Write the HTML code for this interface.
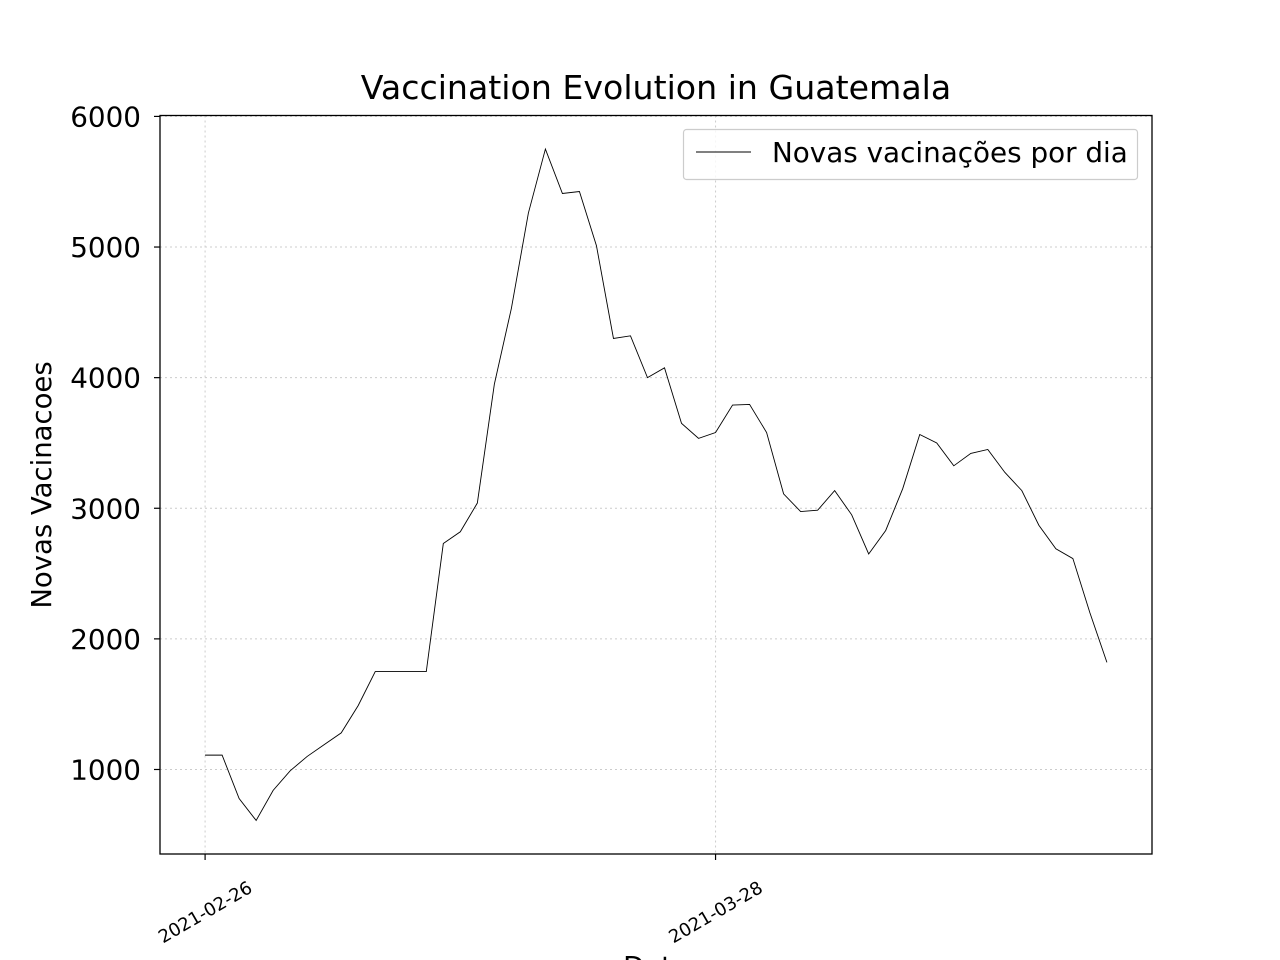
<!DOCTYPE html>
<html><head><meta charset="utf-8"><style>
html,body{margin:0;padding:0;background:#fff;}
svg{display:block;font-family:"DejaVu Sans","Liberation Sans",sans-serif;}
</style></head><body>
<svg id="chart" width="1280" height="960" viewBox="0 0 1280 960">
<text x="656" y="99" font-size="33.2" text-anchor="middle">Vaccination Evolution in Guatemala</text>
<g id="grid"></g>
<g id="yticks"></g>
<g id="xticks"></g>
<path id="line" fill="none" stroke="#000" stroke-width="0.9"/>
<rect x="160" y="115.5" width="992" height="738.5" fill="none" stroke="#000" stroke-width="1.3"/>
<text transform="translate(51,485) rotate(-90)" font-size="27.5" text-anchor="middle">Novas Vacinacoes</text>
<text x="656" y="976" font-size="27.5" text-anchor="middle">Data</text>
<g>
<rect x="683.5" y="129.5" width="454" height="50" rx="3" fill="#fff" fill-opacity="0.8" stroke="#ccc" stroke-width="1.2"/>
<line x1="696" y1="152" x2="751" y2="152" stroke="#000" stroke-width="0.9"/>
<text x="772" y="162" font-size="27.8">Novas vacinações por dia</text>
</g>
</svg>
<script>
const values=[1110,1110,778,610,840,990,1100,1190,1280,1490,1750,1750,1750,1750,2730,2820,3040,3950,4530,5260,5750,5410,5425,5010,4300,4320,4000,4075,3650,3535,3580,3790,3795,3580,3110,2975,2985,3135,2950,2650,2830,3150,3565,3500,3325,3420,3450,3275,3135,2870,2690,2615,2200,1820];
const yTicks=[1000,2000,3000,4000,5000,6000];
const xTickDays=[0,30];
const xTickLabels=["2021-02-26","2021-03-28"];
const ns="http://www.w3.org/2000/svg";
const L=160,R=1152,T=115.5,B=854;
const n=values.length;
const xmin=-(n-1)*0.05,xmax=(n-1)*1.05;
const vmin=Math.min(...values),vmax=Math.max(...values),vr=vmax-vmin;
const ymin=vmin-vr*0.05,ymax=vmax+vr*0.05;
const sx=d=>L+(d-xmin)/(xmax-xmin)*(R-L);
const sy=v=>B-(v-ymin)/(ymax-ymin)*(B-T);
function mk(tag,attrs,parent){const e=document.createElementNS(ns,tag);for(const k in attrs)e.setAttribute(k,attrs[k]);parent.appendChild(e);return e;}
const grid=document.getElementById('grid'),yt=document.getElementById('yticks'),xt=document.getElementById('xticks');
yTicks.forEach(v=>{const y=sy(v);
const g=mk('line',{x1:L,x2:R,y1:y,y2:y,stroke:'#ccc','stroke-dasharray':'2,3','stroke-width':1},grid);


const t=mk('line',{x1:L-6,x2:L,y1:y,y2:y,stroke:'#000','stroke-width':1.2},yt);


const tx=mk('text',{x:L-19,y:y+10,'font-size':27.8,'text-anchor':'end'},yt);tx.textContent=v;


});
xTickDays.forEach((d,i)=>{const x=sx(d);
const g=mk('line',{x1:x,x2:x,y1:T,y2:B,stroke:'#ccc','stroke-dasharray':'2,3','stroke-width':1},grid);


const t=mk('line',{x1:x,x2:x,y1:B,y2:B+6,stroke:'#000','stroke-width':1.2},xt);


const tx=mk('text',{transform:`translate(${x},${B+58}) rotate(-30)`,'font-size':18,'text-anchor':'middle',dy:'0.35em'},xt);tx.textContent=xTickLabels[i];


});
document.getElementById('line').setAttribute('d',values.map((v,i)=>(i?'L':'M')+sx(i).toFixed(2)+','+sy(v).toFixed(2)).join(''));
</script>
</body></html>
